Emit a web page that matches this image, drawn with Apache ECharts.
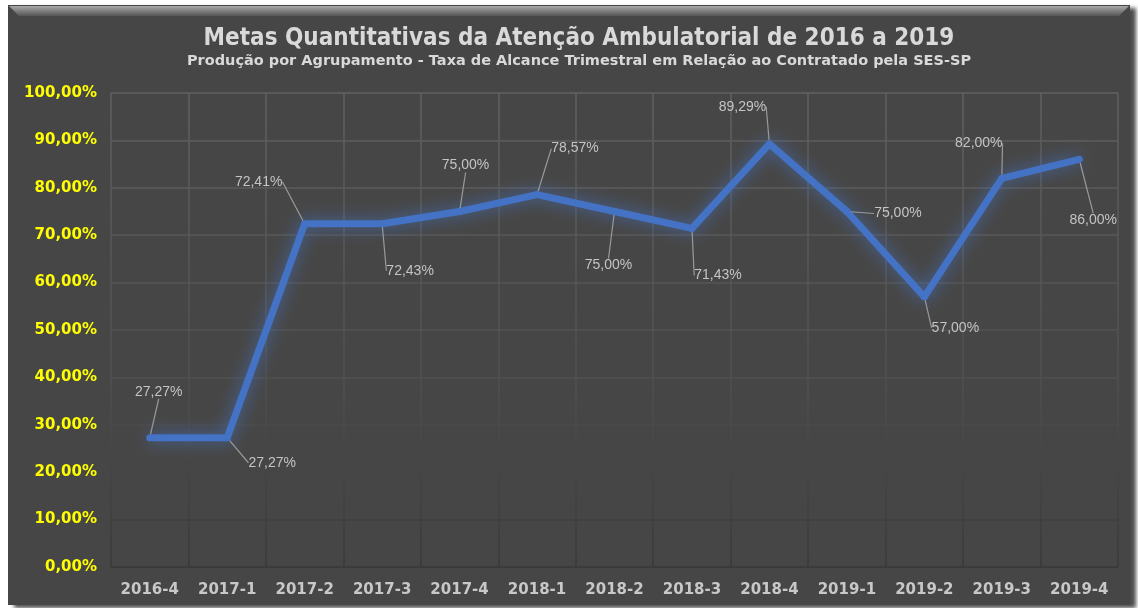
<!DOCTYPE html>
<html>
<head>
<meta charset="utf-8">
<script src="https://cdn.jsdelivr.net/npm/echarts@6/dist/echarts.min.js"></script>
<style>
  html, body { margin: 0; padding: 0; background: #ffffff; }
  #main { width: 1138px; height: 608px; }
</style>
</head>
<body>
<div id="main"></div>
<script>
// trimestres
var quarters = ['2016-4', '2017-1', '2017-2', '2017-3', '2017-4', '2018-1', '2018-2',
                '2018-3', '2018-4', '2019-1', '2019-2', '2019-3', '2019-4'];
// taxa de alcance (%)
var rates = [27.27, 27.27, 72.41, 72.43, 75.00, 78.57, 75.00, 71.43, 89.29, 75.00, 57.00, 82.00, 86.00];

// deslocamento dos rótulos (px) em relação ao ponto
var labelShift = [[9, -46], [45, 25], [-46, -42], [28, 47], [6, -46], [38, -46], [-6, 54],
                  [26, 47], [-27, -37], [51, 2], [31, 31], [-23, -35], [14, 61]];

function pct(v) { return v.toFixed(2).replace('.', ',') + '%'; }

var myChart = echarts.init(document.getElementById('main'));

var gridGrad = new echarts.graphic.LinearGradient(0, 93, 0, 567, [
    { offset: 0, color: '#606060' },
    { offset: 0.6, color: '#505050' },
    { offset: 0.75, color: '#474747' },
    { offset: 1, color: '#393939' }
], true);

var option = {
    backgroundColor: '#ffffff',
    graphic: [
        {
            type: 'rect', z: -10,
            shape: { x: 8, y: 5, width: 1122, height: 600 },
            style: { fill: '#464646', shadowColor: 'rgba(0,0,0,0.7)', shadowBlur: 4, shadowOffsetX: 6, shadowOffsetY: 3 }
        },
        {
            type: 'polygon', z: -9,
            shape: { points: [[9, 6], [1129, 6], [1119, 16], [19, 16]] },
            style: {
                fill: new echarts.graphic.LinearGradient(0, 0, 0, 1, [
                    { offset: 0, color: '#a8a8a8' },
                    { offset: 1, color: '#555555' }
                ])
            }
        }
    ],
    title: {
        text: 'Metas Quantitativas da Atenção Ambulatorial de 2016 a 2019',
        subtext: 'Produção por Agrupamento - Taxa de Alcance Trimestral em Relação ao Contratado pela SES-SP',
        left: 574, textAlign: 'center', top: 22, itemGap: 3,
        textStyle: { color: '#d9d9d9', fontSize: 24, fontWeight: 'bold', fontFamily: '"DejaVu Sans Condensed", "Liberation Sans Narrow", sans-serif' },
        subtextStyle: { color: '#d9d9d9', fontSize: 14.5, fontWeight: 'bold', fontFamily: '"DejaVu Sans", sans-serif' }
    },
    grid: { left: 111, right: 20, top: 93, bottom: 41 },
    xAxis: {
        type: 'category',
        data: quarters,
        axisLine: { show: true, lineStyle: { color: '#3a3a3a' } },
        axisTick: { show: false },
        axisLabel: { color: '#c8c8c8', fontSize: 15, fontWeight: 'bold', fontFamily: '"DejaVu Sans", Verdana, sans-serif', margin: 16 },
        splitLine: { show: true, lineStyle: { color: gridGrad, width: 1.5 } }
    },
    yAxis: {
        type: 'value',
        min: 0, max: 100, interval: 10,
        axisLine: { show: false },
        axisTick: { show: false },
        axisLabel: { color: '#ffff00', fontSize: 15, fontWeight: 'bold', fontFamily: '"DejaVu Sans", Verdana, sans-serif', margin: 14, formatter: pct },
        splitLine: { show: true, lineStyle: { color: gridGrad, width: 1.5 } }
    },
    series: [{
        type: 'line',
        data: rates,
        symbol: 'circle',
        symbolSize: 7,
        itemStyle: { color: '#4472c4' },
        lineStyle: { color: '#4472c4', width: 7, shadowColor: 'rgba(68,114,196,0.85)', shadowBlur: 16 },
        label: {
            show: true, position: 'inside',
            color: '#c4c4c4', fontSize: 14, fontFamily: '"Liberation Sans", Arial, sans-serif',
            formatter: function (p) { return pct(p.value); }
        },
        labelLine: { show: true, lineStyle: { color: '#9a9a9a', width: 1.2 } },
        labelLayout: function (p) {
            var s = labelShift[p.dataIndex];
            return { dx: s[0], dy: s[1] };
        },
        animation: false
    }]
};

myChart.setOption(option);
</script>
</body>
</html>
